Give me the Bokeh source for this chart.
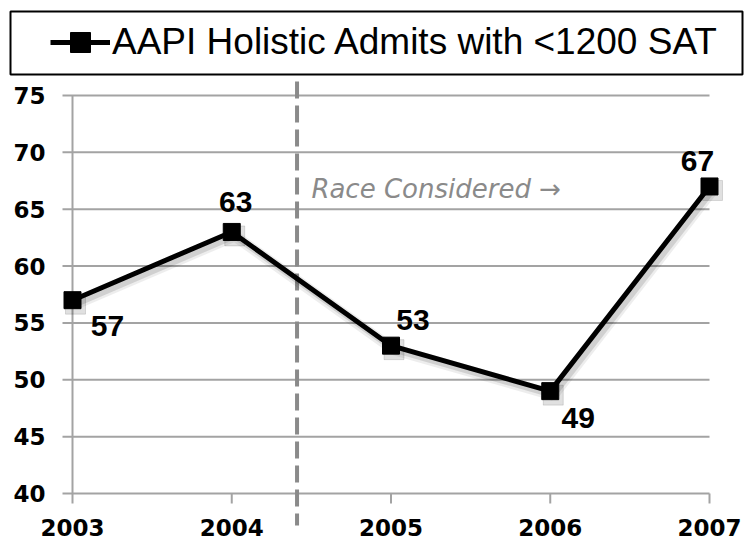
from bokeh.plotting import figure
from bokeh.models import (Range1d, ColumnDataSource, Legend, LegendItem,
                          Label, BoxAnnotation)
from bokeh.core.properties import value
from bokeh.embed import file_html
from bokeh.resources import INLINE

# ---- data ----
years = [2003, 2004, 2005, 2006, 2007]
year_labels = ["2003", "2004", "2005", "2006", "2007"]
admits = [57, 63, 53, 49, 67]
admit_labels = ["57", "63", "53", "49", "67"]
y_ticks = [40, 45, 50, 55, 60, 65, 70, 75]
y_tick_labels = ["40", "45", "50", "55", "60", "65", "70", "75"]
series_name = "AAPI Holistic Admits with <1200 SAT"
race_year = 2004.41
race_text = "Race Considered \u2192"

# ---- styles / label placement (screen px) ----
label_dx = [35, 4, 22, 28, -12]
label_dy = [26, -30, -26, 27, -25]

W, H = 744, 542
PX_X = 159.25   # px per year
PX_Y = 11.371   # px per unit
AX_LEFT, AX_TOP = 72, 95   # pixel position of (first year, top tick)
x0 = years[0] - AX_LEFT / PX_X
x1 = x0 + W / PX_X
y1 = y_ticks[-1] + AX_TOP / PX_Y
y0 = y1 - H / PX_Y


def data_x(px):
    return x0 + px / PX_X


def data_y(py):
    return y1 - py / PX_Y


GRID = "#a3a3a3"
DASH = "#8a8a8a"
TICK_FONT = "DejaVu Sans"
TITLE_FONT = "Liberation Sans"

p = figure(width=W, height=H, output_backend="svg", toolbar_location=None,
           x_range=Range1d(x0, x1), y_range=Range1d(y0, y1),
           x_axis_location=None, y_axis_location=None,
           min_border=0, outline_line_color=None)
p.xgrid.visible = False
p.ygrid.visible = False

# gridlines (with short stubs left of the axis) and the vertical axis line
stub = 10 / PX_X
p.segment(x0=[years[0] - stub] * len(y_ticks), y0=y_ticks,
          x1=[years[-1]] * len(y_ticks), y1=y_ticks,
          line_color=GRID, line_width=2)
p.segment(x0=[years[0]], y0=[y_ticks[0]], x1=[years[0]], y1=[y_ticks[-1]],
          line_color=GRID, line_width=2)
# x ticks
tick = 10 / PX_Y
p.segment(x0=years, y0=[y_ticks[0]] * len(years), x1=years,
          y1=[y_ticks[0] - tick] * len(years), line_color=GRID, line_width=2)

# tick labels
p.text(x=[years[0]] * len(y_ticks), y=y_ticks, text=y_tick_labels,
       x_offset=-27, text_align="right", text_baseline="middle",
       text_font=value(TICK_FONT), text_font_style="bold",
       text_font_size="23px", text_color="black")
p.text(x=years, y=[y_ticks[0]] * len(years), text=year_labels,
       y_offset=34, text_align="center", text_baseline="middle",
       text_font=value(TICK_FONT), text_font_style="bold",
       text_font_size="23px", text_color="black")

# dashed "race considered" divider
p.segment(x0=[race_year], y0=[data_y(81)], x1=[race_year], y1=[data_y(525)],
          line_color=DASH, line_width=4, line_dash="17 7")
p.add_layout(Label(x=2004.5, y=65.5, text=race_text, text_font=TICK_FONT,
                   text_font_style="italic", text_color=DASH,
                   text_font_size="26px"))

# drop shadow
sx = [x + 3 / PX_X for x in years]
sy = [v - 4 / PX_Y for v in admits]
p.line(sx, sy, line_color="black", line_alpha=0.07, line_width=11)
p.line(sx, sy, line_color="black", line_alpha=0.12, line_width=6)
p.scatter(sx, sy, marker="square", size=20, color="black", alpha=0.12)

# series
src = ColumnDataSource(dict(x=years, y=admits, t=admit_labels, dx=label_dx, dy=label_dy))
r_line = p.line("x", "y", source=src, line_color="black", line_width=5)
r_mark = p.scatter("x", "y", source=src, marker="square", size=17, color="black")
p.text("x", "y", text="t", source=src, x_offset="dx", y_offset="dy",
       text_align="center", text_baseline="alphabetic",
       text_font=value("Liberation Sans"), text_font_style="bold",
       text_font_size="30px", text_color="black")

# legend box (top)
p.add_layout(BoxAnnotation(left=data_x(10), right=data_x(742),
                           top=data_y(11), bottom=data_y(74),
                           fill_alpha=0, line_color="black", line_alpha=1,
                           line_width=2))
legend = Legend(items=[LegendItem(label=series_name, renderers=[r_line, r_mark])],
                location=(50, 475), margin=0, border_line_color=None,
                background_fill_alpha=0, padding=40, glyph_width=60, glyph_height=50,
                label_standoff=2, label_height=50, label_text_font=TITLE_FONT,
                label_text_font_size="37px", label_text_color="black")
p.add_layout(legend, "center")

open("out.html", "w").write(file_html(p, INLINE))
